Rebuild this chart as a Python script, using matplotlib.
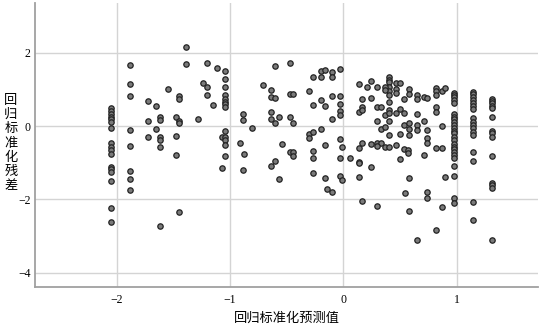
import matplotlib
matplotlib.use('Agg')
import matplotlib.pyplot as plt

# standardized predicted value / standardized residual
# dense vertical columns (same predicted value)
col_x = [-2.05, -1.885, -1.044, 0.98, 1.147, 1.315]
col_y = [
    [0.50, 0.41, 0.33, 0.25, 0.18, 0.12, -0.05, -0.46, -0.56, -0.65, -0.77,
     -1.11, -1.18, -1.26, -1.49, -2.23, -2.62],
    [1.66, 1.15, 0.82, -0.11, -0.54, -1.23, -1.45, -1.75],
    [1.51, 1.28, 1.06, 0.84, 0.74, 0.66, 0.59, 0.53, -0.14, -0.31, -0.38,
     -0.53, -0.82],
    [0.91, 0.85, 0.78, 0.71, 0.62, 0.33, 0.25, 0.18, 0.11, 0.03, -0.05, -0.13,
     -0.20, -0.29, -0.38, -0.49, -0.56, -0.64, -0.71, -0.79, -0.87, -1.08,
     -1.36, -1.97, -2.11],
    [0.94, 0.87, 0.79, 0.71, 0.64, 0.55, 0.46, 0.21, 0.12, 0.03, -0.05, -0.15,
     -0.25, -0.70, -0.95, -2.08, -2.56],
    [0.75, 0.69, 0.62, 0.55, 0.48, 0.25, -0.13, -0.20, -0.29, -0.82, -1.55,
     -1.61, -1.68, -3.11],
]

# scattered points, predicted < -1
x_left = [-1.72, -1.72, -1.72, -1.65, -1.65, -1.615, -1.615, -1.615, -1.615,
          -1.615, -1.615, -1.55, -1.48, -1.48, -1.48, -1.445, -1.445, -1.445,
          -1.445, -1.445, -1.39, -1.39, -1.28, -1.24, -1.205, -1.205, -1.205,
          -1.147, -1.115, -1.07, -1.07]
y_left = [0.68, 0.14, -0.29, 0.55, -0.07, 0.24, 0.16, -0.31, -0.38, -0.56,
          -2.73, 1.02, 0.24, -0.27, -0.80, 0.83, 0.74, 0.15, 0.09, -2.34,
          2.16, 1.69, 0.18, 1.18, 1.06, 1.73, 0.86, 0.57, 1.59, -0.31, -1.15]

# predicted between -1 and 0
x_mid = [-0.883, -0.883, -0.91, -0.876, -0.883, -0.803, -0.71, -0.64, -0.64,
         -0.60, -0.60, -0.64, -0.64, -0.60, -0.565, -0.64, -0.60, -0.565,
         -0.54, -0.47, -0.47, -0.44, -0.47, -0.44, -0.47, -0.44, -0.44,
         -0.30, -0.27, -0.27, -0.20, -0.165, -0.20, -0.10, -0.10, -0.03,
         -0.20, -0.165, -0.10, -0.03, -0.03, -0.03, -0.03, -0.10, -0.20,
         -0.30, -0.30, -0.27, -0.165, -0.03, -0.27, -0.27, -0.27, -0.165,
         -0.14, -0.10, -0.03, -0.03, -0.01, -0.01]
y_mid = [0.33, 0.16, -0.45, -0.76, -1.20, -0.06, 1.11, 0.98, 0.80, 0.76, 1.65,
         0.37, 0.20, 0.07, 0.24, -1.09, -0.96, -1.45, -0.49, 1.73, 0.88, 0.88,
         0.24, 0.09, -0.72, -0.72, -0.83, 0.96, 1.33, 0.57, 1.51, 1.54, 1.35,
         1.47, 1.35, 1.56, 0.71, 0.56, 0.82, 0.81, 0.60, 0.42, 0.30, 0.18,
         -0.07, -0.22, -0.33, -0.17, -0.52, -0.35, -0.67, -0.86, -1.29, -1.43,
         -1.71, -1.81, -0.87, -1.36, -1.47, -0.57]

# predicted between 0 and ~0.9
x_right = [0.06, 0.14, 0.14, 0.14, 0.14, 0.17, 0.17, 0.245, 0.245, 0.30, 0.30,
           0.33, 0.30, 0.37, 0.405, 0.47, 0.50, 0.54, 0.57, 0.575, 0.545,
           0.577, 0.577, 0.647, 0.71, 0.74, 0.74, 0.815, 0.815, 0.874, 0.874,
           0.90,
           0.14, 0.17, 0.21, 0.245, 0.30, 0.14, 0.17, 0.17, 0.245, 0.30, 0.33,
           0.30, 0.33, 0.37, 0.405, 0.405, 0.405, 0.405, 0.405, 0.405, 0.37,
           0.37, 0.405, 0.37, 0.405, 0.405, 0.405, 0.405, 0.47, 0.50, 0.47,
           0.47, 0.47, 0.50, 0.50, 0.54, 0.577, 0.577, 0.54, 0.54, 0.577,
           0.577, 0.577, 0.647, 0.647, 0.647, 0.647, 0.647, 0.71, 0.74, 0.71,
           0.74, 0.74, 0.74, 0.815, 0.815, 0.815, 0.815, 0.815, 0.874, 0.90,
           0.874]
y_right = [-0.87, -0.61, -0.97, -1.02, -1.38, -2.04, -0.45, -1.12, -0.50,
           -2.17, -0.45, -0.45, -0.55, -0.58, -0.56, -0.53, -0.90, -0.63,
           -0.65, -0.73, -1.84, -1.42, -2.33, -3.11, -0.78, -1.79, -1.96,
           -2.84, -0.60, -0.60, -2.20, -1.39,
           1.15, 0.73, 1.06, 1.24, 1.07, 0.39, 0.51, 0.44, 0.76, 0.53, 0.53,
           0.15, -0.09, -0.02, 1.33, 1.26, 1.20, 1.07, 0.95, 0.85, 1.07, 0.98,
           0.65, 0.30, 0.44, 0.35, 0.15, -0.24, 1.18, 1.18, 1.02, 0.89, 0.35,
           0.46, -0.22, 0.73, 1.00, 0.87, 0.35, 0.03, 0.07, -0.09, -0.25, 0.84,
           0.73, 0.33, 0.03, -0.11, 0.80, 0.76, 0.15, -0.11, -0.34, -0.46,
           1.03, 0.96, 0.85, 0.53, 0.39, 0.96, 1.03, 0.0]

xs = x_left + x_mid + x_right
ys = y_left + y_mid + y_right
for cx, cys in zip(col_x, col_y):
    xs += [cx] * len(cys)
    ys += cys

plt.rcParams['font.family'] = ['Liberation Serif', 'Noto Sans CJK SC']

fig = plt.figure(figsize=(5.43, 3.26), dpi=100)
ax = fig.add_axes([0.0645, 0.12, 0.9265, 0.871])

ax.scatter(xs, ys, s=15, facecolor='#7a7a7a', edgecolor='#222222',
           linewidths=0.9, zorder=3)

ax.set_xlim(-2.72, 1.72)
ax.set_ylim(-4.39, 3.36)
ax.set_xticks([-2, -1, 0, 1])
ax.set_yticks([2, 0, -2, -4])
ax.grid(True, color='#d4d4d4', linewidth=1.0)
ax.set_axisbelow(True)
ax.tick_params(length=0, labelsize=8.5, colors='black')
ax.tick_params(axis='x', pad=5)
ax.tick_params(axis='y', pad=3)

for side in ['top', 'right']:
    ax.spines[side].set_visible(False)
for side in ['left', 'bottom']:
    ax.spines[side].set_color('#a0a0a0')
    ax.spines[side].set_linewidth(1.3)

ax.set_xlabel('回归标准化预测值', family=['Noto Sans CJK SC'], fontsize=9.5,
              labelpad=4)
fig.text(0.020, 0.561, '\n'.join('回归标准化残差'), family=['Noto Sans CJK SC'],
         fontsize=9.5, ha='center', va='center', linespacing=1.12)

fig.savefig('out.png', dpi=100)
